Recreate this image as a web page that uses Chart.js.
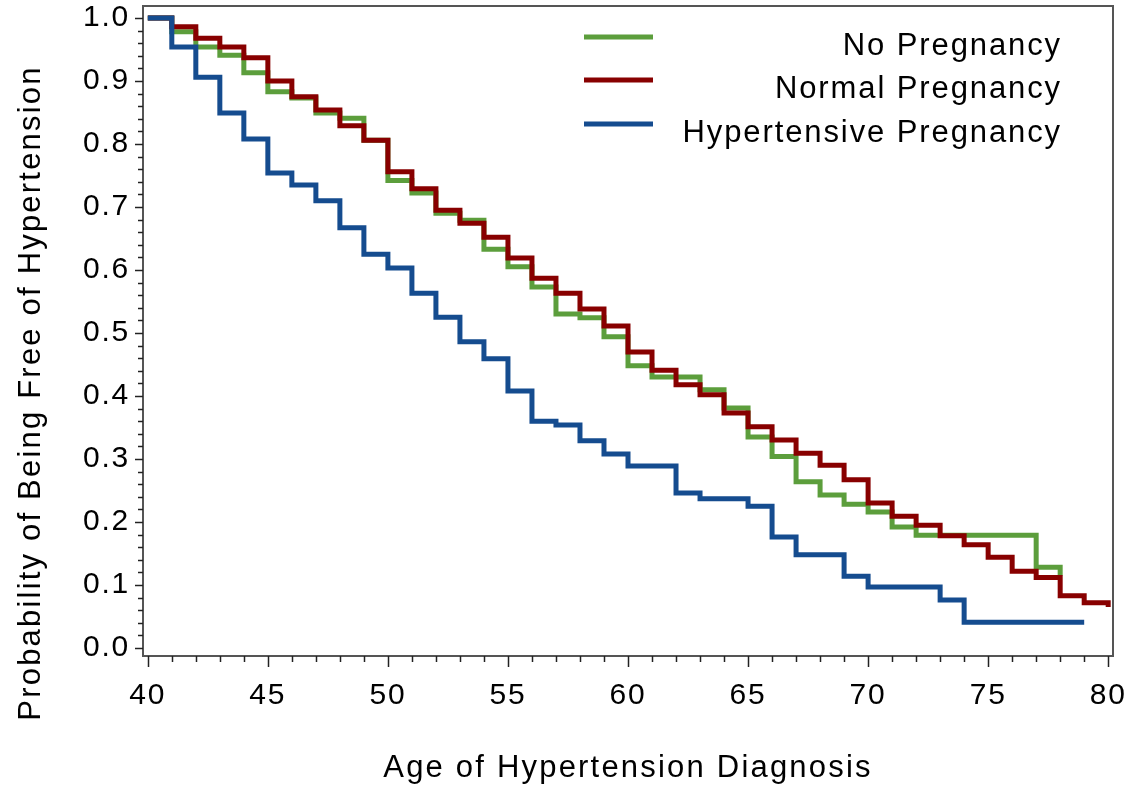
<!DOCTYPE html>
<html>
<head>
<meta charset="utf-8">
<script src="https://cdn.jsdelivr.net/npm/chart.js@4.4.1/dist/chart.umd.min.js"></script>
<style>
html, body { margin: 0; padding: 0; background: #fff; }
#wrap { width: 1134px; height: 785px; }
</style>
</head>
<body>
<div id="wrap"><canvas id="kmChart" width="1134" height="785"></canvas></div>
<script>
// ages where each curve steps, and the survival value from that age onward
const noPregAges = [40, 41, 42, 43, 44, 45, 46, 47, 48, 49, 50, 51, 52, 53, 54, 55, 56, 57, 58, 59,
                    60, 61, 63, 64, 65, 66, 67, 68, 69, 70, 71, 72, 77, 78];
const noPregProb = [1.0, 0.978, 0.954, 0.941, 0.913, 0.883, 0.873, 0.849, 0.841, 0.806, 0.742, 0.722, 0.690, 0.679, 0.633, 0.605, 0.573, 0.530, 0.524, 0.494,
                    0.448, 0.430, 0.410, 0.381, 0.335, 0.304, 0.264, 0.243, 0.228, 0.216, 0.192, 0.179, 0.128, 0.115];

const normalAges = [40, 41, 42, 43, 44, 45, 46, 47, 48, 49, 50, 51, 52, 53, 54, 55, 56, 57, 58, 59,
                    60, 61, 62, 63, 64, 65, 66, 67, 68, 69, 70, 71, 72, 73, 74, 75, 76, 77, 78, 79, 80];
const normalProb = [1.0, 0.986, 0.968, 0.954, 0.937, 0.900, 0.875, 0.854, 0.829, 0.806, 0.756, 0.729, 0.695, 0.674, 0.652, 0.619, 0.587, 0.563, 0.538, 0.511,
                    0.470, 0.441, 0.418, 0.402, 0.373, 0.351, 0.330, 0.309, 0.290, 0.267, 0.230, 0.209, 0.195, 0.178, 0.164, 0.144, 0.122, 0.112, 0.083, 0.072, 0.065];

const hyperAges = [40, 41, 42, 43, 44, 45, 46, 47, 48, 49, 50, 51, 52, 53, 54, 55, 56, 57, 58, 59,
                   60, 62, 63, 65, 66, 67, 69, 70, 73, 74, 79];
const hyperProb = [1.0, 0.954, 0.906, 0.849, 0.808, 0.754, 0.735, 0.710, 0.667, 0.625, 0.603, 0.563, 0.525, 0.486, 0.459, 0.408, 0.360, 0.354, 0.329, 0.308,
                   0.289, 0.246, 0.237, 0.225, 0.176, 0.148, 0.114, 0.097, 0.076, 0.041, 0.041];

const seriesNames = ['No Pregnancy', 'Normal Pregnancy', 'Hypertensive Pregnancy'];
const seriesColors = ['#5c9e3c', '#880000', '#154c8f'];

const xTicks = [40, 45, 50, 55, 60, 65, 70, 75, 80];
const yTicks = [0.0, 0.1, 0.2, 0.3, 0.4, 0.5, 0.6, 0.7, 0.8, 0.9, 1.0];

const xTitle = 'Age of Hypertension Diagnosis';
const yTitle = 'Probability of Being Free of Hypertension';

const FONT = '"Liberation Sans", Arial, sans-serif';

function toPoints(ages, probs) {
    return ages.map((a, i) => ({ x: a, y: probs[i] }));
}

// frame, tick marks, legend and axis titles drawn by hand (SAS look)
const sasDecor = {
    id: 'sasDecor',
    beforeDraw(chart) {
        chart.ctx.letterSpacing = '1.8px';
    },
    afterDraw(chart) {
        const ctx = chart.ctx;
        const area = chart.chartArea;
        const xs = chart.scales.x;
        const ys = chart.scales.y;

        ctx.save();
        ctx.strokeStyle = '#555';
        ctx.lineWidth = 2;
        ctx.strokeRect(area.left, area.top, area.right - area.left, area.bottom - area.top);

        // x ticks: every year, long ones every 5
        ctx.strokeStyle = '#222';
        ctx.lineWidth = 1.5;
        for (let v = 40; v <= 80; v++) {
            const px = Math.round(xs.getPixelForValue(v)) + 0.5;
            const len = v % 5 === 0 ? 11 : 6;
            ctx.beginPath();
            ctx.moveTo(px, area.bottom);
            ctx.lineTo(px, area.bottom + len);
            ctx.stroke();
        }
        // y ticks: every 0.02, long ones every 0.1
        for (let k = 0; k <= 50; k++) {
            const py = Math.round(ys.getPixelForValue(k * 0.02)) + 0.5;
            const len = k % 5 === 0 ? 8 : 5;
            ctx.beginPath();
            ctx.moveTo(area.left, py);
            ctx.lineTo(area.left - len, py);
            ctx.stroke();
        }

        // legend
        ctx.letterSpacing = '1.9px';
        ctx.font = '31px ' + FONT;
        ctx.fillStyle = '#000';
        ctx.textAlign = 'right';
        ctx.textBaseline = 'alphabetic';
        const legendY = [37, 80, 124];
        seriesNames.forEach((name, i) => {
            ctx.strokeStyle = seriesColors[i];
            ctx.lineWidth = 5;
            ctx.beginPath();
            ctx.moveTo(584, legendY[i]);
            ctx.lineTo(653, legendY[i]);
            ctx.stroke();
            ctx.fillText(name, 1062, legendY[i] + 18);
        });

        // axis titles
        ctx.textAlign = 'center';
        ctx.letterSpacing = '2.2px';
        ctx.fillText(xTitle, (area.left + area.right) / 2, 777);
        ctx.translate(40, 393);
        ctx.rotate(-Math.PI / 2);
        ctx.fillText(yTitle, 0, 0);
        ctx.restore();
    }
};

const chart = new Chart(document.getElementById('kmChart').getContext('2d'), {
    type: 'line',
    data: {
        datasets: [
            { label: seriesNames[0], data: toPoints(noPregAges, noPregProb), borderColor: seriesColors[0], order: 3 },
            { label: seriesNames[1], data: toPoints(normalAges, normalProb), borderColor: seriesColors[1], order: 2 },
            { label: seriesNames[2], data: toPoints(hyperAges, hyperProb), borderColor: seriesColors[2], order: 1 }
        ]
    },
    options: {
        responsive: false,
        animation: false,
        devicePixelRatio: 1,
        layout: { padding: { top: 6, right: 21, left: 0, bottom: 0 } },
        elements: {
            line: { stepped: 'before', borderWidth: 5, fill: false, borderJoinStyle: 'miter', borderCapStyle: 'butt' },
            point: { radius: 0, hoverRadius: 0 }
        },
        plugins: {
            legend: { display: false },
            tooltip: { enabled: false },
            title: { display: false }
        },
        scales: {
            x: {
                type: 'linear',
                min: 39.8,
                max: 80.2,
                afterBuildTicks: s => { s.ticks = xTicks.map(v => ({ value: v })); },
                afterFit: s => { s.height = 129; s.paddingLeft = 0; s.paddingRight = 0; },
                grid: { display: false, drawTicks: false },
                border: { display: false },
                ticks: { color: '#000', font: { family: FONT, size: 30 }, padding: 22, maxRotation: 0, autoSkip: false }
            },
            y: {
                min: -0.0127,
                max: 1.019,
                afterBuildTicks: s => { s.ticks = yTicks.map(v => ({ value: v })); },
                afterFit: s => { s.width = 143; s.paddingTop = 0; s.paddingBottom = 0; },
                grid: { display: false, drawTicks: false },
                border: { display: false },
                ticks: { color: '#000', font: { family: FONT, size: 30 }, padding: 13, autoSkip: false,
                         callback: v => v.toFixed(1) }
            }
        }
    },
    plugins: [sasDecor]
});
</script>
</body>
</html>
